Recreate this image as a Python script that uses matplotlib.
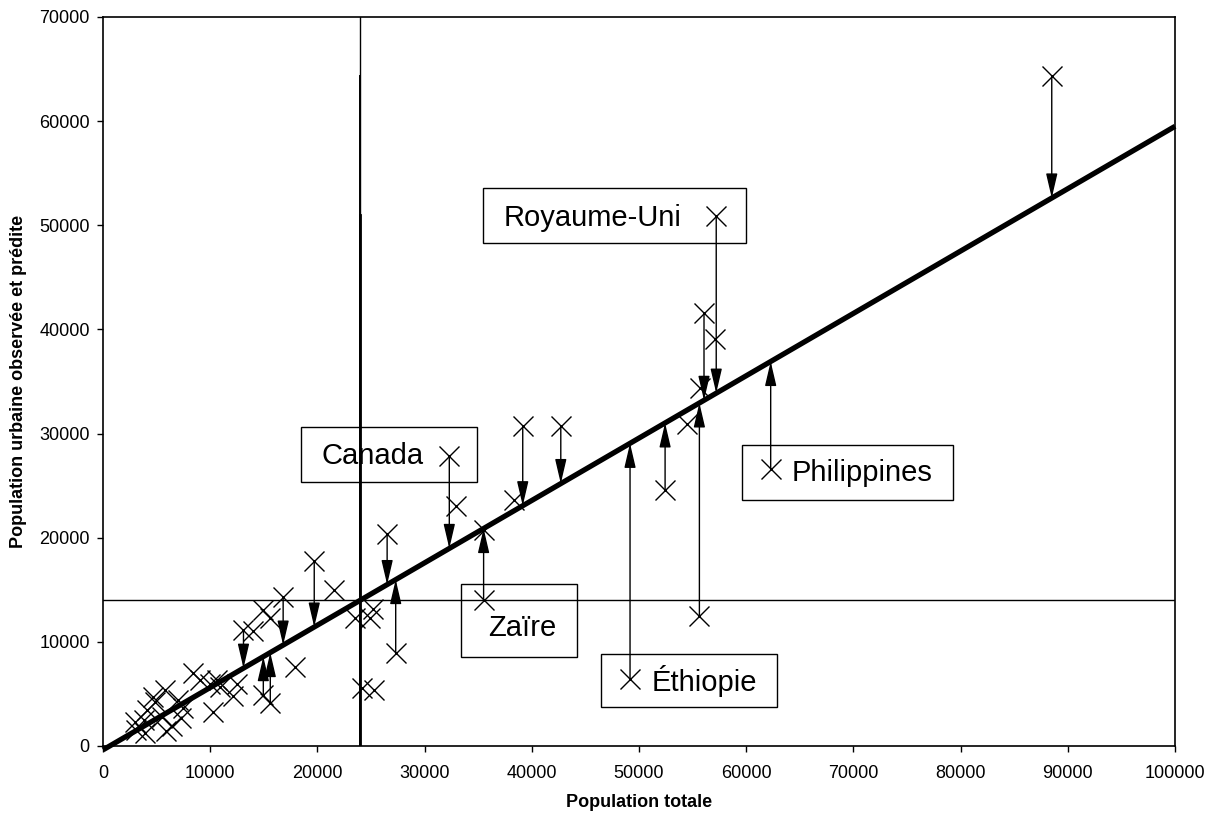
import matplotlib
matplotlib.use('Agg')
import matplotlib.pyplot as plt
from matplotlib.patches import FancyArrowPatch, Rectangle

plt.rcParams['font.family'] = ['Liberation Sans', 'DejaVu Sans']

# population totale / population urbaine observée (milliers)
pop_totale = [3000, 3100, 3800, 3900, 4100, 4700, 4850, 5800, 5500, 5900,
              6400, 7000, 7300, 7500, 8400, 9050, 10000, 10600, 10900, 10300,
              12150, 12500,
              13100, 14000, 14950, 15600, 16800, 14950, 15600, 17900, 19700, 21500,
              23500, 24900, 25200, 24200, 25300, 26500, 27300,
              32300, 32900, 35500, 35500, 38300, 39150, 42700,
              49160, 52430, 54450, 55690, 55630, 56060, 57090, 57200, 62280, 88500]
pop_urbaine = [2300, 1500, 2500, 1250, 3500, 4700, 4200, 5400, 2800, 1400,
               1900, 4400, 2700, 3600, 7000, 6300, 6000, 6300, 5700, 3300,
               4800, 6000,
               11100, 11000, 13100, 12300, 14300, 4900, 4100, 7600, 17800, 15000,
               12300, 12300, 13200, 5600, 5400, 20400, 8900,
               27850, 23000, 20700, 14000, 23600, 30700, 30700,
               6400, 24600, 30900, 34350, 12500, 41600, 39100, 50900, 26600, 64300]

# résidus : valeur observée -> valeur prédite sur la droite
fleche_x = [13100, 16800, 14950, 15600, 19700, 26500, 27300, 32300, 35500,
            39150, 42700, 49160, 52430, 55630, 56060, 57200, 62280, 88500]
fleche_obs = [11100, 14300, 4900, 4100, 17800, 20400, 8900, 27850, 14000,
              30700, 30700, 6400, 24600, 12500, 41600, 50900, 26600, 64300]
fleche_pred = [7470, 9690, 8580, 8970, 11420, 15500, 15980, 18970, 20880,
               23070, 25200, 29060, 31020, 32940, 33190, 33880, 36920, 52620]

# droite de régression et point moyen
reg_x = [0, 100000]
reg_y = [-370, 59500]
moyenne_x = 24000
moyenne_y = 14000

# étiquettes : texte, cadre (x0, y0, x1, y1), position du texte
pays = ['Royaume-Uni', 'Canada', 'Zaïre', 'Philippines', 'Éthiopie']
cadres = [(35420, 48270, 59980, 53550),
          (18440, 25320, 34920, 30600),
          (33400, 8520, 44240, 15560),
          (59580, 23660, 79320, 28880),
          (46430, 3750, 62900, 8880)]
pos_texte = [(37340, 50670), (20400, 27850), (35900, 11300),
             (64240, 26240), (51180, 6240)]

fig = plt.figure(figsize=(12.11, 8.16), dpi=100)
ax = fig.add_axes([0.0851, 0.0858, 0.8852, 0.8934])

# lignes des moyennes
ax.plot([0, 100000], [moyenne_y, moyenne_y], color='black', lw=1, zorder=2)
ax.plot([moyenne_x, moyenne_x], [0, 70000], color='black', lw=1, zorder=2)
ax.plot([moyenne_x, moyenne_x], [0, 64300], color='black', lw=1.4, zorder=2)
ax.plot([moyenne_x, moyenne_x], [0, 51000], color='black', lw=2, zorder=2)

# droite de régression
ax.plot(reg_x, reg_y, color='black', lw=3.8, solid_capstyle='butt',
        clip_on=False, zorder=4)

# points observés
ax.plot(pop_totale, pop_urbaine, 'x', color='black', ms=14, mew=1, zorder=5)

# flèches des résidus
for x, yo, yp in zip(fleche_x, fleche_obs, fleche_pred):
    fl = FancyArrowPatch((x, yo), (x, yp),
                         arrowstyle='-|>,head_length=1.5,head_width=0.35',
                         mutation_scale=10, lw=1, color='black',
                         shrinkA=0, shrinkB=0, zorder=3)
    ax.add_patch(fl)

# étiquettes encadrées
for nom, (x0, y0, x1, y1), (tx, ty) in zip(pays, cadres, pos_texte):
    ax.add_patch(Rectangle((x0, y0), x1 - x0, y1 - y0, fill=False,
                           edgecolor='black', lw=1, zorder=6))
    ax.text(tx, ty, nom, fontsize=21, ha='left', va='center', zorder=6)

ax.set_xlim(0, 100000)
ax.set_ylim(0, 70000)
ax.set_xticks(range(0, 100001, 10000))
ax.set_yticks(range(0, 70001, 10000))
ax.tick_params(axis='both', direction='out', length=4.5, width=1,
               labelsize=13, color='black')
ax.tick_params(axis='x', pad=9)
ax.tick_params(axis='y', pad=5)
for s in ax.spines.values():
    s.set_linewidth(1.2)

ax.set_xlabel('Population totale', fontsize=13, fontweight='bold', labelpad=9)
ax.set_ylabel('Population urbaine observée et prédite', fontsize=13,
              fontweight='bold', labelpad=9)

fig.savefig('out.png', dpi=100)
